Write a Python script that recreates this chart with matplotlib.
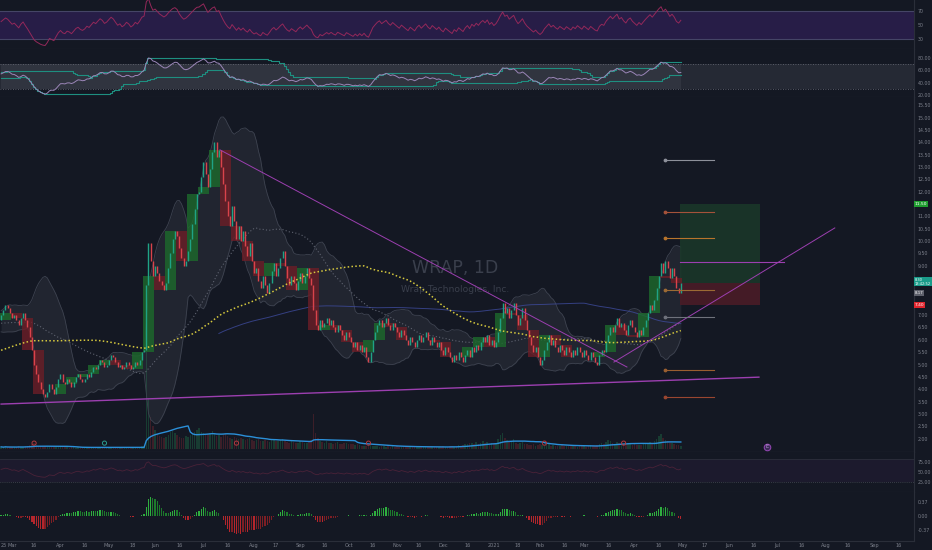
import numpy as np
import pandas as pd
import matplotlib
matplotlib.use('Agg')
import matplotlib.pyplot as plt
from matplotlib import transforms

# ---------------- data ----------------
symbol_label = "WRAP, 1D"
company_label = "Wrap Technologies, Inc."
start_date = "2020-02-24"

# closes before the visible window (only for indicator warm-up)
prior_closes = [4.0, 4.1, 3.9, 4.2, 4.3, 4.1, 4.0, 3.8, 3.9, 4.1,
                4.2, 4.4, 4.3, 4.1, 4.0, 4.2, 4.5, 4.3, 4.1, 3.9,
                4.0, 4.2, 4.1, 3.9, 3.8, 4.0, 4.2, 4.4, 4.3, 4.1,
                4.0, 3.9, 4.1, 4.3, 4.2, 4.0, 4.1, 4.3, 4.5, 4.4,
                4.6, 4.8, 5.0, 5.3, 5.6,
                5.9, 6.2, 6.0, 6.4, 6.7, 6.5, 6.9, 7.2, 7.0, 6.8,
                6.6, 6.9, 7.1, 6.8, 6.5, 6.3, 6.6, 6.4, 6.2, 6.5,
                6.7, 6.9, 6.6, 6.4, 6.8, 7.0, 6.7, 6.5, 6.3, 6.6,
                6.8, 6.5, 6.2, 6.0, 6.3, 6.5, 6.7, 6.4, 6.6, 6.9,
                7.1, 6.8, 6.6, 6.4, 6.7, 6.9, 6.6, 6.4, 6.7, 7.0,
                6.8, 6.6, 6.9, 7.1, 6.8]

closes = [7.0, 7.2, 7.4, 7.3, 7.1, 6.9, 7.0, 6.8, 6.6, 6.9,
          7.1, 6.8, 6.5, 6.1, 5.6, 5.0, 4.6, 4.3, 4.0, 3.8,
          3.7, 3.9, 4.2, 4.0, 3.8, 4.1, 4.4, 4.6, 4.3, 4.2,
          4.4, 4.3, 4.1, 4.3, 4.5, 4.6, 4.4, 4.3, 4.4, 4.6,
          4.5, 4.7, 4.9, 4.8, 5.0, 5.2, 5.1, 4.9, 5.0, 5.2,
          5.4, 5.3, 5.1, 4.9, 5.0, 4.8, 4.9, 5.1, 5.0, 4.8,
          4.9, 5.1, 5.0, 5.2, 5.5, 5.6, 8.2, 9.9, 9.2, 8.6,
          9.0, 8.7, 8.4, 8.2, 8.0, 8.3, 8.9, 9.5, 10.1, 10.4,
          10.2, 9.7, 9.3, 9.0, 9.2, 9.6, 10.1, 10.7, 11.3, 11.9,
          12.0, 12.6, 13.2, 12.7, 12.2, 12.9, 13.6, 14.0, 13.4, 13.7,
          13.0, 12.3, 11.6, 11.0, 10.6, 11.4, 10.8, 10.1, 10.6, 10.0,
          10.4, 9.8, 9.4, 9.9, 9.2, 8.7, 8.9, 8.4, 8.1, 8.6,
          8.2, 7.9, 8.3, 8.8, 9.1, 8.6, 8.9, 9.3, 9.6, 9.0,
          8.5, 8.2, 8.6, 8.3, 8.0, 8.4, 8.7, 8.3, 8.6, 8.9,
          8.5, 8.2, 7.2, 6.6, 6.4, 6.8, 6.5, 6.7, 6.9, 6.6,
          6.8, 6.5, 6.3, 6.6, 6.4, 6.2, 6.0, 6.3, 6.1, 5.9,
          5.7, 5.9, 5.6, 5.8, 5.5, 5.7, 5.3, 5.1, 5.5, 6.0,
          6.3, 6.6, 6.8, 6.5, 6.7, 6.9, 6.6, 6.4, 6.7, 6.5,
          6.3, 6.1, 6.4, 6.2, 6.0, 5.8, 6.1, 5.9, 5.7, 6.0,
          6.2, 5.9, 6.1, 6.3, 6.0, 5.8, 6.1, 5.9, 5.7, 5.9,
          5.6, 5.4, 5.7, 5.5, 5.3, 5.1, 5.4, 5.2, 5.5, 5.3,
          5.1, 5.4, 5.6, 5.3, 5.7, 5.5, 5.8, 5.6, 5.9, 6.1,
          5.9, 6.2, 5.8, 6.0, 5.7, 5.9, 6.3, 6.9, 7.5, 7.1,
          7.3, 6.9, 7.2, 7.5, 7.0, 6.6, 6.9, 7.3, 6.8, 6.4,
          6.1, 5.8, 5.5, 5.7, 5.3, 5.0, 5.2, 5.6, 5.9, 6.2,
          5.8, 6.0, 5.7, 5.5, 5.8, 5.6, 5.4, 5.7, 5.5, 5.3,
          5.6, 5.4, 5.7, 5.5, 5.3, 5.6, 5.4, 5.2, 5.5, 5.3,
          5.1, 5.0, 5.4, 5.6, 5.5, 5.9, 6.2, 6.5, 6.3, 6.6,
          6.9, 6.5, 6.7, 6.4, 6.2, 6.6, 6.8, 6.5, 6.3, 6.1,
          6.4, 6.2, 6.5, 6.8, 7.1, 7.4, 7.2, 7.6, 8.1, 8.6,
          9.1, 8.7, 9.2, 8.9, 8.5, 8.9, 8.6, 8.1, 7.9, 8.3]

volumes = [0.4, 0.3, 0.5, 0.3, 0.4, 0.3, 0.3, 0.4, 0.5, 0.3,
           0.4, 0.5, 0.6, 0.7, 0.9, 1.1, 0.8, 0.6, 0.5, 0.4,
           0.5, 0.4, 0.3, 0.3, 0.4, 0.3, 0.4, 0.3, 0.3, 0.3,
           0.3, 0.2, 0.3, 0.3, 0.2, 0.3, 0.3, 0.2, 0.3, 0.3,
           0.3, 0.4, 0.3, 0.2, 0.3, 0.4, 0.3, 0.2, 0.3, 0.3,
           0.4, 0.3, 0.3, 0.2, 0.3, 0.2, 0.3, 0.3, 0.2, 0.3,
           0.3, 0.3, 0.2, 0.3, 0.5, 0.6, 25.0, 9.5, 6.0, 4.2,
           3.5, 2.8, 2.4, 2.2, 2.0, 2.3, 2.6, 3.1, 3.4, 2.9,
           2.5, 2.2, 2.0, 2.1, 2.4, 2.2, 2.6, 3.0, 3.2, 3.5,
           3.8, 3.2, 2.9, 2.6, 2.8, 3.0, 3.4, 2.7, 2.4, 2.6,
           2.3, 2.5, 2.8, 2.4, 2.1, 1.9, 2.2, 2.0, 1.8, 2.1,
           1.9, 1.7, 1.8, 2.0, 1.6, 1.5, 1.7, 1.8, 1.5, 1.4,
           1.6, 1.5, 1.3, 1.7, 1.9, 1.5, 1.4, 1.6, 1.8, 1.4,
           1.3, 1.2, 1.4, 1.3, 1.1, 1.2, 1.4, 1.3, 1.2, 1.1,
           1.3, 1.6, 6.5, 3.0, 2.0, 1.5, 1.3, 1.2, 1.4, 1.1,
           1.2, 1.0, 1.1, 1.3, 1.0, 0.9, 1.1, 1.2, 0.9, 1.0,
           0.9, 0.8, 0.9, 0.7, 0.6, 0.5, 0.6, 0.8, 0.7, 0.5,
           0.6, 0.5, 0.4, 0.5, 0.6, 0.4, 0.5, 0.4, 0.5, 0.4,
           0.5, 0.4, 0.4, 0.5, 0.3, 0.4, 0.5, 0.4, 0.3, 0.4,
           0.4, 0.3, 0.4, 0.5, 0.4, 0.3, 0.4, 0.3, 0.4, 0.3,
           0.4, 0.5, 0.3, 0.4, 0.6, 0.5, 0.4, 0.5, 0.7, 0.6,
           0.8, 1.0, 0.9, 1.2, 1.1, 0.9, 1.3, 1.0, 1.2, 1.4,
           1.1, 1.3, 1.0, 1.2, 0.9, 1.1, 1.8, 2.6, 3.0, 2.0,
           1.6, 1.3, 1.5, 1.8, 1.2, 1.0, 1.1, 1.3, 1.0, 0.9,
           0.8, 0.7, 0.9, 0.6, 0.8, 1.0, 0.7, 0.6, 0.8, 0.9,
           0.6, 0.7, 0.5, 0.6, 0.5, 0.7, 0.6, 0.5, 0.6, 0.5,
           0.5, 0.6, 0.4, 0.5, 0.6, 0.5, 0.4, 0.6, 0.7, 0.5,
           0.6, 0.8, 0.9, 1.1, 0.9, 1.3, 1.6, 1.4, 1.2, 1.0,
           1.3, 1.1, 1.0, 0.9, 1.0, 1.2, 0.9, 0.8, 0.9, 0.7,
           0.8, 0.7, 0.9, 1.0, 1.2, 1.3, 1.1, 1.5, 1.9, 2.4,
           2.8, 2.0, 1.7, 1.4, 1.2, 1.1, 0.9, 0.8, 0.7, 0.6]

# chart events on the volume baseline (bar index)
event_idx = [15, 47, 107, 167, 247, 283]
event_kind = ["div", "split", "div", "div", "div", "div"]
earnings_idx = 348

# drawing tools (bar index, price)
entry_price = 8.30
target_price = 11.50
stop_price = 7.40
ma_tag_price = 8.17
countdown_text = "13:42:52"
position_span = (308.6, 345.0)
hline_price = 9.15
hline_span = (308.6, 356.0)
trend_down = [(99.5, 13.69), (284.5, 4.90)]
trend_up = [(278.6, 5.10), (379.0, 10.53)]
support_line = [(0.0, 3.40), (344.5, 4.49)]
level_prices = [13.28, 11.18, 10.12, 8.02, 6.92, 4.78, 3.68]
level_colors = ["#8d909a", "#a5523a", "#b8742c", "#9c6a34", "#6f727c", "#9a5e30", "#9a4630"]
level_span = (302.0, 324.0)

# ---------------- indicators ----------------
P = len(prior_closes)
N = len(closes)
allc = pd.Series(prior_closes + closes, dtype=float)
c = np.array(closes)
o = allc.shift(1).values[P:]
x = np.arange(N)

def rsi(s, n):
    d = s.diff()
    up = d.clip(lower=0).ewm(alpha=1 / n, adjust=False).mean()
    dn = (-d.clip(upper=0)).ewm(alpha=1 / n, adjust=False).mean()
    return 100 - 100 / (1 + up / dn)

sma50 = allc.rolling(50).mean().values[P:]
sma100 = allc.rolling(100).mean().values[P:]
sma200 = allc.rolling(200).mean().values[P:]
mid = allc.rolling(20).mean()
sd = allc.rolling(20).std(ddof=0)
bb_up = (mid + 2 * sd).values[P:]
bb_lo = (mid - 2 * sd).values[P:]
rsi14 = rsi(allc, 14).values[P:]
osc = rsi(allc, 14).ewm(span=3, adjust=False).mean()
osc_hi = osc.rolling(30).max().values[P:]
osc_lo = osc.rolling(30).min().values[P:]
osc = osc.values[P:]
ema12 = allc.ewm(span=12, adjust=False).mean()
ema26 = allc.ewm(span=26, adjust=False).mean()
macd = ema12 - ema26
hist = (macd - macd.ewm(span=9, adjust=False).mean()).values[P:]
vol = np.array(volumes)
vol_ma = pd.Series(vol).rolling(20, min_periods=1).mean().values

dates = pd.bdate_range(start_date, periods=N)

# ---------------- styling ----------------
BG = "#141823"
SEP = "#2a2e39"
TXT = "#7b7f8a"
UP = "#1fa386"
DN = "#d9434b"
W, H = 932, 550
XMAX = 415.0

fig = plt.figure(figsize=(W / 100, H / 100), dpi=100, facecolor=BG)

def panel(t, b):
    a = fig.add_axes([0, 1 - b / H, 914 / W, (b - t) / H])
    a.set_facecolor(BG)
    for s in ("top", "left"):
        a.spines[s].set_visible(False)
    for s in ("bottom", "right"):
        a.spines[s].set_color(SEP)
        a.spines[s].set_linewidth(0.8)
    a.set_xlim(-0.5, XMAX)
    a.yaxis.tick_right()
    a.tick_params(axis="y", length=0, labelsize=3.4, colors=TXT, pad=2.5)
    a.tick_params(axis="x", length=0, labelbottom=False)
    return a

# --- RSI panel ---
ax_r = panel(0, 49)
ax_r.set_ylim(15.7, 85.7)
ax_r.axhspan(30, 70, color="#271d47", lw=0)
ax_r.axhline(70, color="#454566", lw=0.8)
ax_r.axhline(30, color="#454566", lw=0.8)
ax_r.plot(x, rsi14, color="#94285a", lw=0.7)
ax_r.set_yticks([30, 50, 70])

# --- oscillator panel ---
ax_s = panel(49, 97)
ax_s.set_ylim(17.2, 94.0)
ax_s.axhspan(30, 70, color="#252934", lw=0)
ax_s.fill_between(x, 30, 70, color="#30343f", lw=0)
ax_s.axhline(70, color="#6a6d78", lw=0.6, ls=(0, (1, 2)))
ax_s.axhline(30, color="#6a6d78", lw=0.6, ls=(0, (1, 2)))
ax_s.plot(x, osc_hi, color="#1e8f80", lw=0.8, drawstyle="steps-mid")
ax_s.plot(x, osc_lo, color="#1e8f80", lw=0.8, drawstyle="steps-mid")
ax_s.plot(x, osc, color="#9b86b8", lw=0.7)
ax_s.set_yticks([20, 40, 60, 80])
ax_s.set_yticklabels(["20.00", "40.00", "60.00", "80.00"])

# --- main price panel ---
ax_v = panel(97, 452)
ax_v.set_ylim(-0.55, 65)
ax_v.set_yticks([])
ax = panel(97, 452)
ax.patch.set_visible(False)
ax.set_ylim(1.46, 15.83)
tag_prices = [target_price, entry_price, ma_tag_price, stop_price]
price_ticks = [v for v in np.arange(2.0, 15.6, 0.5)
               if min(abs(v - t) for t in tag_prices) > 0.3]
ax.set_yticks(price_ticks)
ax.set_yticklabels([f"{v:.2f}" for v in price_ticks])

# volume
upv = c >= o
ax_v.bar(x[upv], vol[upv], width=0.7, color="#1d6a45", alpha=0.45, lw=0)
ax_v.bar(x[~upv], vol[~upv], width=0.7, color="#6e2630", alpha=0.45, lw=0)
ax_v.plot(x, vol_ma, color="#2b8fd8", lw=1.0)
btrans = transforms.blended_transform_factory(ax_v.transData, ax_v.transAxes)
for i, k in zip(event_idx, event_kind):
    col = "#2a9d8f" if k == "split" else "#b0393f"
    ax_v.scatter([i], [0.025], s=9, facecolor="none", edgecolor=col, lw=0.7, transform=btrans, zorder=5)
ax_v.scatter([earnings_idx], [0.015], s=22, facecolor="#3a2a55", edgecolor="#8e44ad", lw=0.8, transform=btrans, zorder=5)
ax_v.text(earnings_idx, 0.015, "E", transform=btrans, color="#c39be0", fontsize=3.5, ha="center", va="center", zorder=6)

# watermark
ax.text(0.498, 0.518, symbol_label, transform=ax.transAxes, color="#3a3f4c", fontsize=12.5,
        ha="center", va="center", zorder=0)
ax.text(0.498, 0.459, company_label, transform=ax.transAxes, color="#3a3f4c", fontsize=6.6,
        ha="center", va="center", zorder=0)

# bollinger + moving averages
ax.fill_between(x, bb_lo, bb_up, color="#7a7f8c", alpha=0.13, lw=0, zorder=1)
ax.plot(x, bb_up, color="#3e4350", lw=0.6, zorder=1)
ax.plot(x, bb_lo, color="#3e4350", lw=0.6, zorder=1)
ax.plot(x, sma200, color="#3d4a9a", lw=0.7, alpha=0.8, zorder=2)
ax.plot(x, sma50, color="#5f6370", lw=0.8, ls=(0, (1, 2)), zorder=2)
ax.plot(x, sma100, color="#d6c93e", lw=1.1, ls=(0, (1, 1.5)), zorder=4)

# weekly boxes
wk = dates.to_period("W")
for key in wk.unique():
    idx = np.where(wk == key)[0]
    a0, a1 = idx[0], idx[-1]
    wo, wc = o[a0], c[a1]
    col = "#1d6a2c" if wc >= wo else "#6c1e27"
    lo_, hi_ = min(wo, wc), max(wo, wc)
    ax.bar((a0 + a1) / 2, hi_ - lo_, bottom=lo_, width=a1 - a0 + 1, color=col, alpha=0.8, lw=0, zorder=2)

# daily candles
ax.vlines(x[upv], o[upv], c[upv], color=UP, lw=1.0, zorder=3)
ax.vlines(x[~upv], o[~upv], c[~upv], color=DN, lw=1.0, zorder=3)

# drawing tools
ax.fill_between(position_span, entry_price, target_price, color="#1b3d2a", alpha=0.75, lw=0, zorder=1)
ax.fill_between(position_span, stop_price, entry_price, color="#4a1c27", alpha=0.9, lw=0, zorder=1)
ax.plot(hline_span, [hline_price, hline_price], color="#9c3fb0", lw=0.8, zorder=4)
for seg, lw_ in ((trend_down, 0.7), (trend_up, 0.7), (support_line, 1.0)):
    ax.plot([seg[0][0], seg[1][0]], [seg[0][1], seg[1][1]], color="#9c3fb0", lw=lw_, zorder=4)
for p, col in zip(level_prices, level_colors):
    ax.plot(level_span, [p, p], color=col, lw=0.8, zorder=4)
    ax.scatter([level_span[0]], [p], s=3, color=col, zorder=5)

# right-side tags
ytr = ax.get_yaxis_transform()
def tag(price, text, fc, fs=3.2):
    ax.text(1.001, price, text, transform=ytr, fontsize=fs, color="white", ha="left", va="center",
            linespacing=0.95, bbox=dict(boxstyle="square,pad=0.2", fc=fc, ec="none"),
            clip_on=False, zorder=10)
tag(target_price, f"{target_price:.2f}", "#1f9d2f")
tag(entry_price + 0.05, f"{entry_price:.2f}\n{countdown_text}", "#1a9c8a", fs=2.6)
tag(ma_tag_price - 0.27, f"{ma_tag_price:.2f}", "#5d606b", fs=2.8)
tag(stop_price, f"{stop_price:.2f}", "#e0262e")

# --- faint panel ---
ax4 = panel(452, 492)
ax4.set_ylim(0, 100)
ax4.axhspan(25, 82.5, color="#1c1a2d", lw=0)
ax4.axhline(82.5, color="#2c2f3b", lw=0.6)
ax4.axhline(25, color="#5a5d68", lw=0.5, ls=(0, (1, 2)))
ax4.plot(x, 25 + rsi14 * 0.575, color="#4a2238", lw=0.6)
ax4.set_yticks([25, 50, 75])
ax4.set_yticklabels(["25.00", "50.00", "75.00"])

# --- MACD histogram ---
ax_m = panel(492, 541)
Hm = np.nanmax(hist) * 24 / 19
ax_m.set_ylim(-Hm * 25 / 24, Hm)
prev = np.concatenate([[0], hist[:-1]])
cols = np.where(hist >= 0, np.where(hist >= prev, "#2fae3f", "#1d7a2c"),
                np.where(hist <= prev, "#b3262c", "#7d1e24"))
ax_m.bar(x, hist, width=0.55, color=cols, lw=0)
ax_m.set_yticks([-Hm * 0.6, 0, Hm * 0.6])
ax_m.set_yticklabels([f"{-Hm*0.6:.2f}", "0.00", f"{Hm*0.6:.2f}"])

# x tick labels
full = pd.bdate_range(start_date, periods=int(XMAX) + 1)
ticks, labels = [], []
seen_mid = set()
for i in range(1, len(full)):
    d, dp = full[i], full[i - 1]
    if d.month != dp.month:
        ticks.append(i)
        labels.append(str(d.year) if d.month == 1 else d.strftime("%b"))
    elif d.day >= 16 and (d.year, d.month) not in seen_mid:
        seen_mid.add((d.year, d.month))
        ticks.append(i)
        labels.append(str(d.day))
ax_m.set_xticks(ticks)
ax_m.set_xticklabels(labels)
ax_m.tick_params(axis="x", length=0, labelbottom=True, labelsize=3.6, colors=TXT, pad=1.5)

fig.savefig("out.png", dpi=100, facecolor=BG)
